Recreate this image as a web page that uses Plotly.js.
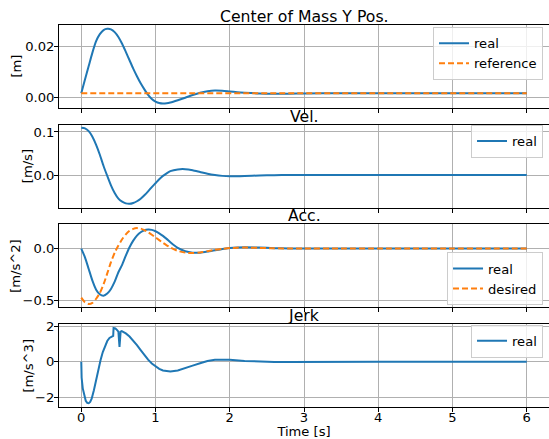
<!DOCTYPE html>
<html>
<head>
<meta charset="utf-8">
<script src="https://cdn.plot.ly/plotly-3.0.1.min.js"></script>
<style>
  html, body { margin: 0; padding: 0; background: #ffffff; }
  #chart { width: 549px; height: 439px; }
</style>
</head>
<body>
<div id="chart"></div>
<script>
// Time base shared by position, velocity and acceleration samples [s]
const time = [0, 0.05, 0.1, 0.15, 0.2, 0.25, 0.3, 0.35, 0.4, 0.45, 0.5, 0.55, 0.6, 0.65, 0.7, 0.75,
  0.8, 0.85, 0.9, 0.95, 1.0, 1.05, 1.1, 1.15, 1.2, 1.3, 1.4, 1.5, 1.6, 1.7, 1.8, 1.9, 2.0, 2.1, 2.2,
  2.4, 2.6, 2.8, 3.0, 3.5, 4.0, 4.5, 5.0, 5.5, 6.0];

// Center of mass Y position [m]
const posReal = [0.0015, 0.0069, 0.0122, 0.0175, 0.0220, 0.0248, 0.0264, 0.0269, 0.0267, 0.0256,
  0.0237, 0.0210, 0.0178, 0.0145, 0.0112, 0.0082, 0.0054, 0.0030, 0.0008, -0.0008, -0.0018, -0.0024,
  -0.0026, -0.0025, -0.0022, -0.0013, -0.0003, 0.0008, 0.0017, 0.0023, 0.0026, 0.0025, 0.0022, 0.0019,
  0.0017, 0.0014, 0.0013, 0.0013, 0.0014, 0.0015, 0.0015, 0.0015, 0.0015, 0.0015, 0.0015];
const refTime = [0, 6];
const posReference = [0.0015, 0.0015];

// Velocity [m/s]
const velReal = [0.110, 0.1085, 0.102, 0.089, 0.070, 0.047, 0.021, -0.002, -0.024, -0.042, -0.055,
  -0.062, -0.066, -0.067, -0.065, -0.061, -0.055, -0.047, -0.038, -0.028, -0.019, -0.010, -0.002, 0.004,
  0.009, 0.013, 0.0135, 0.011, 0.007, 0.003, 0.000, -0.002, -0.003, -0.003, -0.0025, -0.001, -0.0003,
  0, 0, 0, 0, 0, 0, 0, 0];

// Acceleration [m/s^2]
const accReal = [0, -0.084, -0.197, -0.31, -0.397, -0.442, -0.455, -0.435, -0.39, -0.32, -0.229,
  -0.158, -0.068, 0.013, 0.077, 0.126, 0.158, 0.177, 0.184, 0.181, 0.168, 0.148, 0.123, 0.094, 0.061,
  0.006, -0.026, -0.039, -0.039, -0.029, -0.016, -0.003, 0.006, 0.011, 0.013, 0.010, 0.004, 0.001, 0,
  0, 0, 0, 0, 0, 0];
const accDesired = [-0.474, -0.52, -0.535, -0.525, -0.485, -0.43, -0.345, -0.24, -0.13, -0.04, 0.03,
  0.09, 0.138, 0.172, 0.191, 0.198, 0.194, 0.179, 0.158, 0.134, 0.108, 0.082, 0.056, 0.032, 0.011,
  -0.022, -0.039, -0.043, -0.037, -0.025, -0.012, -0.002, 0.005, 0.009, 0.010, 0.007, 0.003, 0.001, 0,
  0, 0, 0, 0, 0, 0];

// Jerk [m/s^3], sampled finer around the switching instants
const jerkTime = [0, 0.005, 0.02, 0.04, 0.06, 0.08, 0.1, 0.12, 0.14, 0.17, 0.2, 0.23, 0.26, 0.29,
  0.32, 0.35, 0.38, 0.41, 0.43, 0.435, 0.46, 0.48, 0.5, 0.515, 0.53, 0.545, 0.57, 0.6, 0.65, 0.7, 0.75,
  0.8, 0.85, 0.9, 0.95, 1.0, 1.05, 1.1, 1.15, 1.2, 1.3, 1.4, 1.5, 1.6, 1.7, 1.8, 1.9, 2.0, 2.2, 2.4,
  2.6, 2.8, 3.0, 3.5, 4.0, 5.0, 6.0];
const jerkReal = [0, -0.9, -1.5, -1.95, -2.2, -2.32, -2.34, -2.26, -2.08, -1.6, -0.98, -0.4, 0.1,
  0.55, 0.9, 1.17, 1.34, 1.43, 1.46, 1.9, 1.88, 1.8, 1.7, 0.84, 1.7, 1.73, 1.69, 1.6, 1.42, 1.2, 0.94,
  0.66, 0.38, 0.12, -0.1, -0.27, -0.4, -0.49, -0.54, -0.55, -0.49, -0.37, -0.22, -0.08, 0.04, 0.11,
  0.13, 0.11, 0.05, 0.01, -0.02, -0.02, -0.01, 0, 0, 0, 0];

// Panel titles, axis labels and tick labels
const panelTitles = ['Center of Mass Y Pos.', 'Vel.', 'Acc.', 'Jerk'];
const unitLabels = ['[m]', '[m/s]', '[m/s^2]', '[m/s^3]'];
const timeLabel = 'Time [s]';
const xTickVals = [0, 1, 2, 3, 4, 5, 6];
const xTickText = ['0', '1', '2', '3', '4', '5', '6'];
const yTickVals = [[0, 0.02], [0, 0.1], [-0.5, 0], [-2, 0, 2]];
const yTickText = [['0.00', '0.02'], ['0.0', '0.1'], ['\u22120.5', '0.0'], ['\u22122', '0', '2']];
const yRanges = [[-0.00434, 0.0284], [-0.076, 0.117], [-0.568, 0.235], [-2.55, 2.13]];

const BLUE = '#1f77b4';
const ORANGE = '#ff7f0e';
const FONT = 'DejaVu Sans, Liberation Sans, sans-serif';
const TICK_SIZE = 13.1;
const TITLE_SIZE = 15.7;

// Panel layout: vertical domains, unit label offsets and legend anchors
const domains = [[0.7827, 1], [0.5217, 0.7391], [0.2609, 0.4783], [0, 0.2173]];
const unitShift = [-42, -32, -43, -31];
const legendTop = [0.9942, 0.7382, 0.4045, 0.2155];

const solid = (x, y, name, legend, shape) => ({
  type: 'scatter', mode: 'lines', x: x, y: y, name: name, legend: legend,
  line: { color: BLUE, width: 2, shape: shape || 'spline', smoothing: 0.6 }
});
const dashed = (x, y, name, legend) => ({
  type: 'scatter', mode: 'lines', x: x, y: y, name: name, legend: legend,
  line: { color: ORANGE, width: 2, dash: '6px,3px', shape: 'spline', smoothing: 0.6 }
});

const traces = [
  Object.assign(solid(time, posReal, 'real', 'legend'), { xaxis: 'x', yaxis: 'y' }),
  Object.assign(dashed(refTime, posReference, 'reference', 'legend'), { xaxis: 'x', yaxis: 'y' }),
  Object.assign(solid(time, velReal, 'real', 'legend2'), { xaxis: 'x2', yaxis: 'y2' }),
  Object.assign(solid(time, accReal, 'real', 'legend3'), { xaxis: 'x3', yaxis: 'y3' }),
  Object.assign(dashed(time, accDesired, 'desired', 'legend3'), { xaxis: 'x3', yaxis: 'y3' }),
  Object.assign(solid(jerkTime, jerkReal, 'real', 'legend4', 'linear'), { xaxis: 'x4', yaxis: 'y4' })
];

const legendStyle = (y) => ({
  x: 0.9878, y: y, xanchor: 'right', yanchor: 'top',
  bgcolor: 'rgba(255,255,255,0.8)', bordercolor: '#cccccc', borderwidth: 1,
  font: { family: FONT, size: TICK_SIZE, color: '#000000' },
  tracegroupgap: 0
});

const layout = {
  width: 549, height: 439,
  margin: { l: 59, r: 0, t: 25, b: 32, pad: 0 },
  paper_bgcolor: '#ffffff', plot_bgcolor: '#ffffff',
  font: { family: FONT, size: TICK_SIZE, color: '#000000' },
  showlegend: true,
  annotations: []
};

for (let i = 0; i < 4; i++) {
  const n = i === 0 ? '' : String(i + 1);
  layout['legend' + n] = legendStyle(legendTop[i]);
  layout['xaxis' + n] = {
    domain: [0, 1], anchor: 'y' + n, range: [-0.3, 6.3],
    tickvals: xTickVals, ticktext: xTickText, showticklabels: i === 3,
    ticks: 'outside', ticklen: 4, tickwidth: 1, tickcolor: '#000000',
    ticklabelstandoff: -6,
    showgrid: true, gridcolor: '#b0b0b0', gridwidth: 1, zeroline: false,
    showline: true, linecolor: '#000000', linewidth: 1, mirror: true,
    tickfont: { family: FONT, size: TICK_SIZE, color: '#000000' },
    title: i === 3 ? { text: timeLabel, font: { family: FONT, size: TICK_SIZE }, standoff: 6 } : { text: '' }
  };
  layout['yaxis' + n] = {
    domain: domains[i], anchor: 'x' + n, range: yRanges[i],
    tickvals: yTickVals[i], ticktext: yTickText[i],
    ticks: 'outside', ticklen: 4, tickwidth: 1, tickcolor: '#000000',
    ticklabelstandoff: -3,
    showgrid: true, gridcolor: '#b0b0b0', gridwidth: 1, zeroline: false,
    showline: true, linecolor: '#000000', linewidth: 1, mirror: false,
    tickfont: { family: FONT, size: TICK_SIZE, color: '#000000' }
  };
  // unit label to the left of the tick labels
  layout.annotations.push({
    text: unitLabels[i], xref: 'paper', yref: 'paper', x: 0,
    y: (domains[i][0] + domains[i][1]) / 2, xanchor: 'center', yanchor: 'middle',
    xshift: unitShift[i], textangle: -90, showarrow: false,
    font: { family: FONT, size: TICK_SIZE, color: '#000000' }
  });
  // panel title just above the plotting area
  layout.annotations.push({
    text: panelTitles[i], xref: 'paper', yref: 'paper', x: 0.5, y: domains[i][1],
    xanchor: 'center', yanchor: 'bottom', yshift: -3, showarrow: false,
    font: { family: FONT, size: TITLE_SIZE, color: '#000000' }
  });
}

Plotly.newPlot('chart', traces, layout, { staticPlot: true, displayModeBar: false });
</script>
</body>
</html>
